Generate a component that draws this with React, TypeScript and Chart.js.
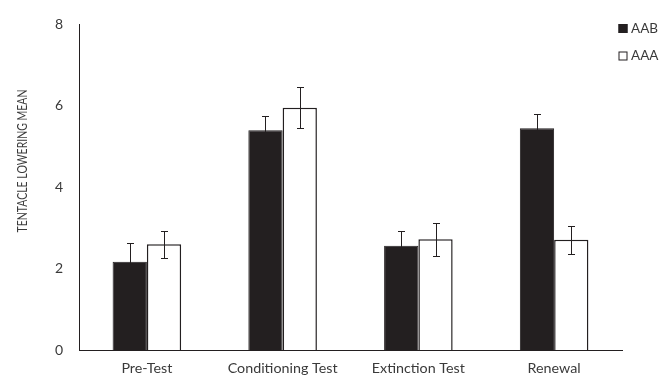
import React, { useEffect, useRef } from "react";
import { Chart, registerables } from "chart.js";

Chart.register(...registerables);

const categories = ["Pre-Test", "Conditioning Test", "Extinction Test", "Renewal"];
const seriesNames = ["AAB", "AAA"];
const aabValues = [2.17, 5.4, 2.56, 5.45];
const aaaValues = [2.6, 5.95, 2.72, 2.71];
const aabErrors = [0.46, 0.34, 0.37, 0.36];
const aaaErrors = [0.33, 0.5, 0.41, 0.34];
const yTicks = [0, 2, 4, 6, 8];
const yTitle = "TENTACLE LOWERING MEAN";

const FONT = "Lato";
const DARK = "#231f20";
const TEXT = "#3a3a3a";

const errorBarPlugin = {
  id: "errorBars",
  afterDatasetsDraw(chart: any) {
    const ctx = chart.ctx;
    const y = chart.scales.y;
    const errs = [aabErrors, aaaErrors];
    ctx.save();
    ctx.strokeStyle = DARK;
    ctx.lineWidth = 1;
    chart.data.datasets.forEach((ds: any, di: number) => {
      const meta = chart.getDatasetMeta(di);
      meta.data.forEach((bar: any, i: number) => {
        const v = ds.data[i];
        const e = errs[di][i];
        const x = Math.round(bar.x) + 0.5;
        const yt = Math.round(y.getPixelForValue(v + e)) + 0.5;
        const yb = Math.round(y.getPixelForValue(v - e)) + 0.5;
        ctx.beginPath();
        ctx.moveTo(x, yt);
        ctx.lineTo(x, yb);
        ctx.moveTo(x - 3.5, yt);
        ctx.lineTo(x + 3.5, yt);
        ctx.moveTo(x - 3.5, yb);
        ctx.lineTo(x + 3.5, yb);
        ctx.stroke();
      });
    });
    ctx.restore();
  },
};

const extrasPlugin = {
  id: "extras",
  afterDraw(chart: any) {
    const ctx = chart.ctx;
    ctx.save();
    ctx.fillStyle = TEXT;
    ctx.font = `12.5px ${FONT}`;
    ctx.textAlign = "center";
    ctx.textBaseline = "middle";
    const w = ctx.measureText(yTitle).width;
    ctx.translate(23, 161);
    ctx.rotate(-Math.PI / 2);
    ctx.scale(143 / w, 1);
    ctx.fillText(yTitle, 0, 0);
    ctx.restore();

    ctx.save();
    ctx.font = `13.5px ${FONT}`;
    ctx.textBaseline = "middle";
    ctx.textAlign = "left";
    const items = [
      { name: seriesNames[0], fill: DARK, y: 28.5 },
      { name: seriesNames[1], fill: "#ffffff", y: 56 },
    ];
    items.forEach((it) => {
      ctx.fillStyle = it.fill;
      ctx.fillRect(618.5, it.y - 4.5, 9, 9);
      ctx.strokeStyle = DARK;
      ctx.lineWidth = 1;
      ctx.strokeRect(619, it.y - 4, 8, 8);
      ctx.fillStyle = TEXT;
      ctx.fillText(it.name, 631, it.y);
    });
    ctx.restore();
  },
};

export default function App() {
  const ref = useRef<HTMLCanvasElement | null>(null);

  useEffect(() => {
    if (!ref.current) return;
    const chart = new Chart(ref.current, {
      type: "bar",
      data: {
        labels: categories,
        datasets: [
          {
            label: seriesNames[0],
            data: aabValues,
            backgroundColor: DARK,
            borderColor: DARK,
            borderWidth: 1,
          },
          {
            label: seriesNames[1],
            data: aaaValues,
            backgroundColor: "#ffffff",
            borderColor: DARK,
            borderWidth: 1.5,
          },
        ],
      },
      options: {
        animation: false,
        responsive: false,
        maintainAspectRatio: false,
        layout: { padding: { top: 20, right: 48, left: 0, bottom: 0 } },
        datasets: { bar: { barPercentage: 1, categoryPercentage: 0.505 } },
        plugins: { legend: { display: false }, tooltip: { enabled: false } },
        scales: {
          x: {
            grid: { display: false, drawTicks: false },
            border: { display: true, color: DARK, width: 1 },
            ticks: { color: TEXT, font: { family: FONT, size: 14.3 }, padding: 10 },
            afterFit(scale: any) {
              scale.height = 26;
            },
          },
          y: {
            min: 0,
            max: 8,
            afterBuildTicks(scale: any) {
              scale.ticks = yTicks.map((v) => ({ value: v }));
            },
            grid: { display: false, drawTicks: false },
            border: { display: true, color: DARK, width: 1 },
            ticks: { color: TEXT, font: { family: FONT, size: 14 }, padding: 16 },
            afterFit(scale: any) {
              scale.width = 79;
            },
          },
        },
      },
      plugins: [errorBarPlugin, extrasPlugin],
    });
    return () => chart.destroy();
  }, []);

  return (
    <div style={{ position: "fixed", left: 0, top: 0, width: 670, height: 376, background: "#fff" }}>
      <canvas ref={ref} width={670} height={376} style={{ width: 670, height: 376 }} />
    </div>
  );
}
